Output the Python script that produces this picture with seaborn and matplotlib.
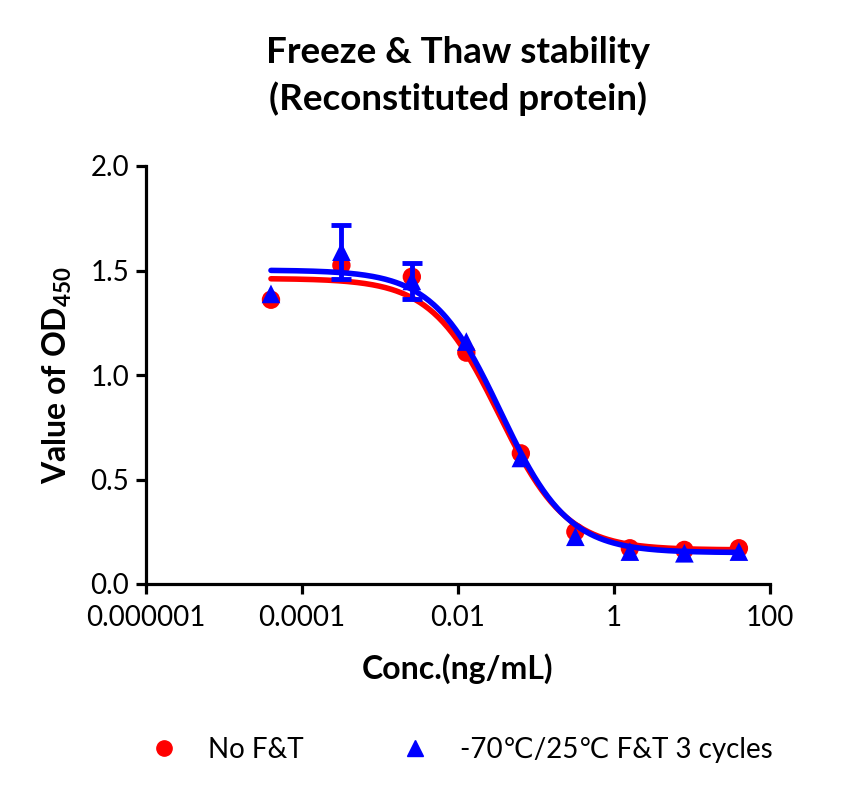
import numpy as np
import pandas as pd
import matplotlib
matplotlib.use("Agg")
import matplotlib.pyplot as plt
from matplotlib.lines import Line2D
import seaborn as sns

# ---- data ----
conc = [0.00004, 0.00032, 0.00256, 0.0128, 0.064, 0.32, 1.6, 8.0, 40.0]
od_no_ft = [1.36, 1.525, 1.47, 1.107, 0.625, 0.25, 0.171, 0.163, 0.171]
sd_no_ft = [0, 0, 0, 0, 0, 0, 0, 0, 0]
od_ft = [1.388, 1.59, 1.45, 1.16, 0.603, 0.226, 0.155, 0.147, 0.155]
sd_ft = [0, 0.13, 0.087, 0, 0, 0, 0, 0, 0]

# 4PL fit parameters (top, bottom, EC50, hill)
fit_no_ft = [1.462, 0.163, 0.0335, 1.0]
fit_ft = [1.502, 0.150, 0.0350, 1.0]

series_names = ["No F&T", "-70\u2103/25\u2103 F&T 3 cycles"]
colors = ["#ff0000", "#0000ff"]

x_ticks = [0.000001, 0.0001, 0.01, 1, 100]
x_ticklabels = ["0.000001", "0.0001", "0.01", "1", "100"]
y_ticks = [0.0, 0.5, 1.0, 1.5, 2.0]

sns.set_style("ticks")
plt.rcParams["font.family"] = ["Lato", "DejaVu Sans"]
plt.rcParams["text.color"] = "black"
plt.rcParams["axes.labelcolor"] = "black"
plt.rcParams["mathtext.fontset"] = "custom"
plt.rcParams["mathtext.bf"] = "Lato:bold"
plt.rcParams["mathtext.rm"] = "Lato"


def four_pl(x, p):
    top, bottom, ec50, hill = p
    return bottom + (top - bottom) / (1.0 + (x / ec50) ** hill)


def draw_errorbars(ax, x, y, err, color, z):
    sel = [i for i, e in enumerate(err) if e > 0]
    if sel:
        ax.errorbar([x[i] for i in sel], [y[i] for i in sel],
                    yerr=[err[i] for i in sel], fmt="none", ecolor=color,
                    elinewidth=3.5, capsize=7, capthick=3.5, zorder=z)


fig = plt.figure(figsize=(8.57, 8.0), dpi=100)
ax = fig.add_axes([0.1704, 0.27, 0.728, 0.5225])

xs = np.logspace(np.log10(conc[0]), np.log10(conc[-1]), 300)
curves = pd.DataFrame({
    "x": np.concatenate([xs, xs]),
    "y": np.concatenate([four_pl(xs, fit_no_ft), four_pl(xs, fit_ft)]),
    "series": [series_names[0]] * len(xs) + [series_names[1]] * len(xs),
})
pts = pd.DataFrame({
    "x": conc + conc,
    "y": od_no_ft + od_ft,
    "series": [series_names[0]] * len(conc) + [series_names[1]] * len(conc),
})

# red series
draw_errorbars(ax, conc, od_no_ft, sd_no_ft, colors[0], 2)
sns.lineplot(data=curves[curves.series == series_names[0]], x="x", y="y",
             color=colors[0], lw=4, ax=ax, zorder=3, legend=False)
sns.scatterplot(data=pts[pts.series == series_names[0]], x="x", y="y",
                color=colors[0], marker="o", s=175, edgecolor="none",
                ax=ax, zorder=4, legend=False)
# blue series
sns.lineplot(data=curves[curves.series == series_names[1]], x="x", y="y",
             color=colors[1], lw=4, ax=ax, zorder=5, legend=False)
sns.scatterplot(data=pts[pts.series == series_names[1]], x="x", y="y",
                color=colors[1], marker="^", s=180, edgecolor="none",
                ax=ax, zorder=6, legend=False)
draw_errorbars(ax, conc, od_ft, sd_ft, colors[1], 7)

ax.set_xscale("log")
ax.set_xlim(1e-6, 100)
ax.set_ylim(0, 2.0)
ax.set_xticks(x_ticks)
ax.set_xticklabels(x_ticklabels)
ax.minorticks_off()
ax.set_yticks(y_ticks)
ax.set_yticklabels([f"{v:.1f}" for v in y_ticks])

for s in ["top", "right"]:
    ax.spines[s].set_visible(False)
for s in ["left", "bottom"]:
    ax.spines[s].set_linewidth(2.3)
    ax.spines[s].set_color("black")
ax.tick_params(axis="both", direction="out", length=7, width=2.3,
               labelsize=20, colors="black", pad=5)
ax.tick_params(axis="x", pad=8)

ax.set_xlabel("Conc.(ng/mL)", fontsize=23, fontweight="bold", labelpad=16)
ax.set_ylabel(r"Value of OD$_{\mathbf{450}}$", fontsize=23,
              fontweight="bold", labelpad=12)
ax.set_title("Freeze & Thaw stability\n(Reconstituted protein)",
             fontsize=26.5, fontweight="bold", pad=40, linespacing=1.45,
             color="black")

handles = [
    Line2D([], [], ls="none", marker="o", color=colors[0], markersize=11),
    Line2D([], [], ls="none", marker="^", color=colors[1], markersize=11),
]
fig.legend(handles, series_names, loc="center", bbox_to_anchor=(0.530, 0.063),
           ncol=2, frameon=False, fontsize=20, handletextpad=0.6,
           columnspacing=3.0)

fig.savefig("out.png", dpi=100)
